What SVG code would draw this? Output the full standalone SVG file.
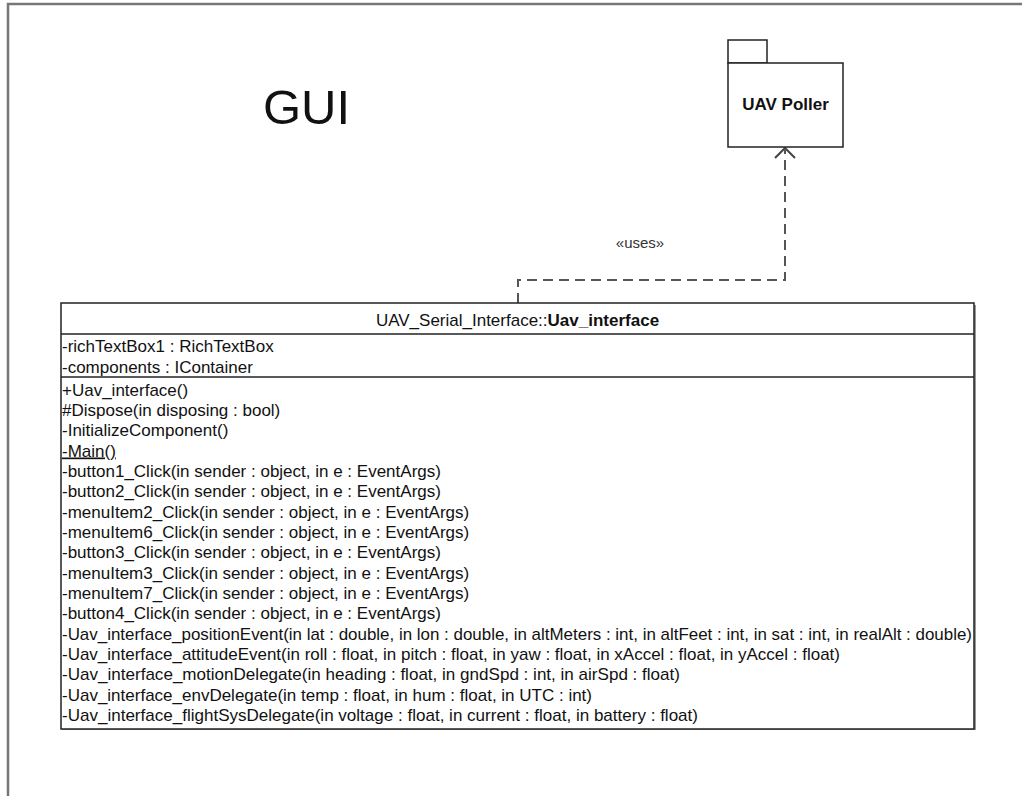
<svg xmlns="http://www.w3.org/2000/svg" width="1022" height="796" viewBox="0 0 1022 796">
<style>
  .t{font-family:"Liberation Sans",Arial,sans-serif;font-size:17px;fill:#111}
  .b{font-weight:bold}
  .box{fill:#fff;stroke:#222;stroke-width:1.5}
  .sep{stroke:#222;stroke-width:1.5}
  .dep{fill:none;stroke:#555;stroke-width:2;stroke-dasharray:10 6}
</style>
<defs>
  <marker id="open" viewBox="0 0 22 12" refX="11" refY="1" markerWidth="22" markerHeight="12" markerUnits="userSpaceOnUse" orient="auto-start-reverse">
    <path d="M1 11 L11 1 L21 11" fill="none" stroke="#444" stroke-width="2"/>
  </marker>
</defs>
<rect width="1022" height="796" fill="#fff"/>
<g id="frame">
  <path d="M8 800 L8 4 L1030 4" fill="none" stroke="#777" stroke-width="2.5"/>
  <text x="263" y="124" font-family="Liberation Sans,Arial,sans-serif" font-size="49" fill="#111">GUI</text>
</g>
<g id="connectors">
  <path class="dep" d="M518 303 L518 280 L785 280 L785 150"/>
  <path d="M775 158 L785 148 L795 158" fill="none" stroke="#444" stroke-width="2"/>
  <text x="640" y="248" text-anchor="middle" font-family="Liberation Sans,Arial,sans-serif" font-size="15" fill="#333">«uses»</text>
</g>
<g id="uav_poller">
  <rect x="728" y="40" width="39" height="23" class="box"/>
  <rect x="728" y="63" width="115" height="84" class="box"/>
  <text x="785.5" y="110" text-anchor="middle" class="t b" font-size="16.5">UAV Poller</text>
</g>
<g id="uav_interface">
  <rect x="62" y="305" width="914" height="425" fill="#999"/>
  <rect x="61" y="303" width="913" height="426" class="box"/>
  <line x1="61" y1="334" x2="974" y2="334" class="sep"/>
  <line x1="61" y1="377" x2="974" y2="377" class="sep"/>
  <text x="517.5" y="326" text-anchor="middle" class="t">UAV_Serial_Interface::<tspan class="b">Uav_interface</tspan></text>
  <text x="62" y="352" class="t">-richTextBox1 : RichTextBox</text>
  <text x="62" y="373" class="t">-components : IContainer</text>
  <text x="62" y="395.5" class="t">+Uav_interface()</text>
  <text x="62" y="415.8" class="t">#Dispose(in disposing : bool)</text>
  <text x="62" y="436.2" class="t">-InitializeComponent()</text>
  <text x="62" y="456.5" class="t" text-decoration="underline">-Main()</text>
  <text x="62" y="476.8" class="t">-button1_Click(in sender : object, in e : EventArgs)</text>
  <text x="62" y="497.2" class="t">-button2_Click(in sender : object, in e : EventArgs)</text>
  <text x="62" y="517.5" class="t">-menuItem2_Click(in sender : object, in e : EventArgs)</text>
  <text x="62" y="537.8" class="t">-menuItem6_Click(in sender : object, in e : EventArgs)</text>
  <text x="62" y="558.2" class="t">-button3_Click(in sender : object, in e : EventArgs)</text>
  <text x="62" y="578.5" class="t">-menuItem3_Click(in sender : object, in e : EventArgs)</text>
  <text x="62" y="598.8" class="t">-menuItem7_Click(in sender : object, in e : EventArgs)</text>
  <text x="62" y="619.2" class="t">-button4_Click(in sender : object, in e : EventArgs)</text>
  <text x="62" y="639.5" class="t" textLength="910" lengthAdjust="spacingAndGlyphs">-Uav_interface_positionEvent(in lat : double, in lon : double, in altMeters : int, in altFeet : int, in sat : int, in realAlt : double)</text>
  <text x="62" y="659.8" class="t" textLength="778" lengthAdjust="spacingAndGlyphs">-Uav_interface_attitudeEvent(in roll : float, in pitch : float, in yaw : float, in xAccel : float, in yAccel : float)</text>
  <text x="62" y="680.2" class="t" textLength="618" lengthAdjust="spacingAndGlyphs">-Uav_interface_motionDelegate(in heading : float, in gndSpd : int, in airSpd : float)</text>
  <text x="62" y="700.5" class="t" textLength="530" lengthAdjust="spacingAndGlyphs">-Uav_interface_envDelegate(in temp : float, in hum : float, in UTC : int)</text>
  <text x="62" y="720.8" class="t" textLength="636" lengthAdjust="spacingAndGlyphs">-Uav_interface_flightSysDelegate(in voltage : float, in current : float, in battery : float)</text>
</g>
</svg>
